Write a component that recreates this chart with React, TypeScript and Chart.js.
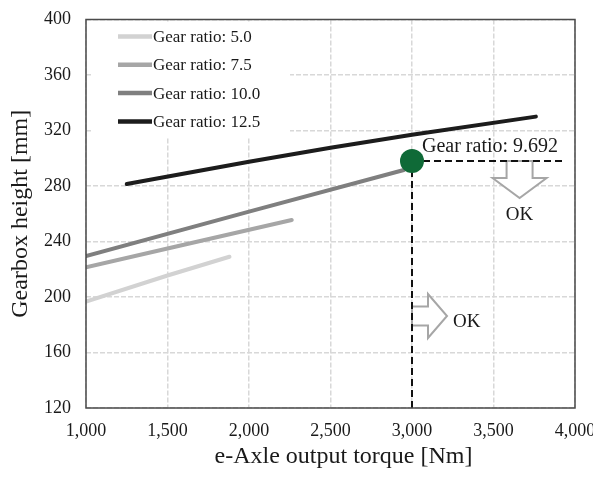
import React, { useEffect, useRef } from "react";
import { Chart, registerables } from "chart.js";

Chart.register(...registerables);

// ---- data ----
const seriesLabels = ["Gear ratio: 5.0", "Gear ratio: 7.5", "Gear ratio: 10.0", "Gear ratio: 12.5"];
const seriesColors = ["#d2d2d2", "#a6a6a6", "#7f7f7f", "#1c1c1c"];

const torque50 = [1000, 1500, 1880];
const height50 = [196.6, 215.5, 229];

const torque75 = [1000, 1500, 2262];
const height75 = [221.4, 235, 255.5];

const torque100 = [1000, 2000, 2950];
const height100 = [229.5, 261.5, 291.5];

const torque125 = [1250, 2000, 2500, 3000, 3760];
const height125 = [281.4, 297.5, 307.5, 317, 330];

const xTicksMin = 1000;
const xTicksMax = 4000;
const xStep = 500;
const yTicksMin = 120;
const yTicksMax = 400;
const yStep = 40;

const optimumPoint = { x: 3000, y: 298 };
const optimumLabel = "Gear ratio: 9.692";
const horizontalLimitEnd = 3930;
const okLabel = "OK";
const downArrowAnchorX = 3660;
const rightArrowAnchorY = 186.3;
const rightOkAnchorY = 182;
const downOkAnchorY = 259;

const xTitle = "e-Axle output torque [Nm]";
const yTitle = "Gearbox height [mm]";

const SERIF = "'Liberation Serif', 'Times New Roman', Times, serif";
const TEXT = "#1a1a1a";

export default function App() {
  const ref = useRef<HTMLCanvasElement>(null);

  useEffect(() => {
    const canvas = ref.current;
    if (!canvas) return;

    const mk = (xs: number[], ys: number[]) => xs.map((x, i) => ({ x, y: ys[i] }));
    const seriesData = [
      mk(torque50, height50),
      mk(torque75, height75),
      mk(torque100, height100),
      mk(torque125, height125),
    ];

    const drawPlugin = {
      id: "decor",
      beforeDatasetsDraw(chart: any) {
        const { ctx, chartArea, scales } = chart;
        const xs = scales.x;
        const ys = scales.y;
        ctx.save();
        // legend box (white, covers grid)
        ctx.fillStyle = "#ffffff";
        ctx.fillRect(chartArea.left + 6, chartArea.top + 2, 198, 116);
        ctx.font = `17px ${SERIF}`;
        ctx.textBaseline = "middle";
        ctx.textAlign = "left";
        seriesLabels.forEach((lab, i) => {
          const y = chartArea.top + 17 + i * 28.3;
          ctx.strokeStyle = seriesColors[i];
          ctx.lineWidth = 4.5;
          ctx.setLineDash([]);
          ctx.beginPath();
          ctx.moveTo(chartArea.left + 32, y);
          ctx.lineTo(chartArea.left + 66, y);
          ctx.stroke();
          ctx.fillStyle = TEXT;
          ctx.fillText(lab, chartArea.left + 67, y + 1);
        });

        // down arrow
        const dx = xs.getPixelForValue(downArrowAnchorX);
        const dy = ys.getPixelForValue(optimumPoint.y);
        ctx.beginPath();
        ctx.moveTo(dx - 13, dy);
        ctx.lineTo(dx - 13, dy + 17);
        ctx.lineTo(dx - 27, dy + 17);
        ctx.lineTo(dx, dy + 37);
        ctx.lineTo(dx + 27, dy + 17);
        ctx.lineTo(dx + 13, dy + 17);
        ctx.lineTo(dx + 13, dy);
        ctx.closePath();
        ctx.fillStyle = "#ffffff";
        ctx.fill();
        ctx.strokeStyle = "#a6a6a6";
        ctx.lineWidth = 2;
        ctx.lineJoin = "miter";
        ctx.stroke();

        // right arrow
        const rx = xs.getPixelForValue(optimumPoint.x);
        const ry = ys.getPixelForValue(rightArrowAnchorY);
        ctx.beginPath();
        ctx.moveTo(rx, ry - 9.5);
        ctx.lineTo(rx + 16, ry - 9.5);
        ctx.lineTo(rx + 16, ry - 22);
        ctx.lineTo(rx + 35, ry);
        ctx.lineTo(rx + 16, ry + 22);
        ctx.lineTo(rx + 16, ry + 9.5);
        ctx.lineTo(rx, ry + 9.5);
        ctx.closePath();
        ctx.fillStyle = "#ffffff";
        ctx.fill();
        ctx.stroke();
        ctx.restore();
      },
      afterDatasetsDraw(chart: any) {
        const { ctx, chartArea, scales } = chart;
        const xs = scales.x;
        const ys = scales.y;
        ctx.save();
        // frame
        ctx.strokeStyle = "#4a4a4a";
        ctx.lineWidth = 1.5;
        ctx.setLineDash([]);
        ctx.strokeRect(chartArea.left, chartArea.top, chartArea.right - chartArea.left, chartArea.bottom - chartArea.top);

        ctx.fillStyle = TEXT;
        ctx.textBaseline = "middle";
        // optimum label
        const px = xs.getPixelForValue(optimumPoint.x);
        const py = ys.getPixelForValue(optimumPoint.y);
        ctx.font = `20px ${SERIF}`;
        ctx.textAlign = "left";
        ctx.fillText(optimumLabel, px + 10, py - 14);

        // OK labels
        ctx.font = `19px ${SERIF}`;
        ctx.textAlign = "center";
        ctx.fillText(okLabel, xs.getPixelForValue(downArrowAnchorX), ys.getPixelForValue(downOkAnchorY));
        ctx.textAlign = "left";
        ctx.fillText(okLabel, px + 41, ys.getPixelForValue(rightOkAnchorY));

        // x-axis title
        ctx.font = `24px ${SERIF}`;
        ctx.textAlign = "center";
        ctx.fillText(xTitle, (chartArea.left + chartArea.right) / 2 + 13, 457);
        ctx.restore();
      },
    };

    const chart = new Chart(canvas, {
      type: "line",
      data: {
        datasets: [
          {
            label: "optimum",
            data: [optimumPoint],
            showLine: false,
            pointRadius: 12,
            pointHoverRadius: 12,
            pointBackgroundColor: "#0f6a37",
            pointBorderColor: "#0f6a37",
            pointBorderWidth: 0,
            order: 0,
          },
          {
            label: "vertical",
            data: [{ x: optimumPoint.x, y: yTicksMin }, optimumPoint],
            borderColor: "#111111",
            borderWidth: 2,
            borderDash: [7, 4],
            pointRadius: 0,
            order: 1,
          },
          {
            label: "horizontal",
            data: [optimumPoint, { x: horizontalLimitEnd, y: optimumPoint.y }],
            borderColor: "#111111",
            borderWidth: 2,
            borderDash: [7, 4],
            pointRadius: 0,
            order: 1,
          },
          ...seriesData.map((d, i) => ({
            label: seriesLabels[i],
            data: d,
            borderColor: seriesColors[i],
            backgroundColor: seriesColors[i],
            borderWidth: 4,
            pointRadius: 0,
            tension: 0,
            borderCapStyle: "round",
            order: 2,
          })),
        ],
      },
      options: {
        responsive: false,
        animation: false,
        events: [],
        layout: { padding: { left: 0, right: 18, top: 19.5, bottom: 0 } },
        plugins: { legend: { display: false }, tooltip: { enabled: false } },
        scales: {
          x: {
            type: "linear",
            min: xTicksMin,
            max: xTicksMax,
            ticks: {
              stepSize: xStep,
              autoSkip: false,
              maxRotation: 0,
              padding: 12,
              color: TEXT,
              font: { family: SERIF, size: 18 },
              callback: (v: any) => Number(v).toLocaleString("en-US"),
            },
            grid: { color: "#d8d8d8", lineWidth: 1.5, drawTicks: false },
            border: { display: false, dash: [5, 2] },
            afterFit: (s: any) => {
              s.height = 72;
              s.paddingLeft = 0;
              s.paddingRight = 0;
            },
          },
          y: {
            type: "linear",
            min: yTicksMin,
            max: yTicksMax,
            ticks: {
              stepSize: yStep,
              padding: 15,
              color: TEXT,
              font: { family: SERIF, size: 18 },
            },
            grid: { color: "#d8d8d8", lineWidth: 1.5, drawTicks: false },
            border: { display: false, dash: [5, 2] },
            title: {
              display: true,
              text: yTitle,
              color: TEXT,
              font: { family: SERIF, size: 24 },
              padding: { top: 6, bottom: 0 },
            },
            afterFit: (s: any) => {
              s.width = 86;
              s.paddingTop = 0;
              s.paddingBottom = 0;
            },
          },
        },
      },
      plugins: [drawPlugin],
    } as any);

    return () => chart.destroy();
  }, []);

  return (
    <div style={{ position: "absolute", left: 0, top: 0, width: 593, height: 480, background: "#ffffff" }}>
      <canvas ref={ref} width={593} height={480} style={{ display: "block" }} />
    </div>
  );
}
